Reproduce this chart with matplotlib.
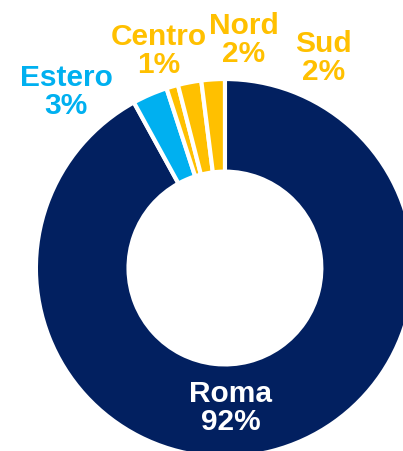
import matplotlib.pyplot as plt

# share of each area, clockwise from the top
labels = ["Roma", "Estero", "Centro", "Nord", "Sud"]
shares = [92, 3, 1, 2, 2]
colors = ["#022060", "#00B0F0", "#FFC000", "#FFC000", "#FFC000"]

# label anchors (data units, radius = 1) and text colours
label_pos = [(0.03, -0.74), (-0.84, 0.93), (-0.35, 1.15), (0.10, 1.205), (0.52, 1.11)]
label_col = ["white", "#00B0F0", "#FFC000", "#FFC000", "#FFC000"]

plt.rcParams['font.family'] = ['Liberation Sans', 'DejaVu Sans']

fig = plt.figure(figsize=(4.03, 4.51), dpi=100)
ax = fig.add_axes([0, 0, 1, 1])

ax.pie(shares, colors=colors, startangle=90, counterclock=False,
       wedgeprops=dict(width=0.49, edgecolor="white", linewidth=3))

for name, val, (x, y), c in zip(labels, shares, label_pos, label_col):
    ax.text(x, y, f"{name}\n{val}%", ha="center", va="center", color=c,
            fontsize=21.5, fontweight="bold", linespacing=1.0)

ax.set_aspect("auto")
ax.set_xlim(-1.19, 0.942)
ax.set_ylim(-0.968, 1.418)
ax.axis("off")

fig.savefig("out.png", dpi=100)
